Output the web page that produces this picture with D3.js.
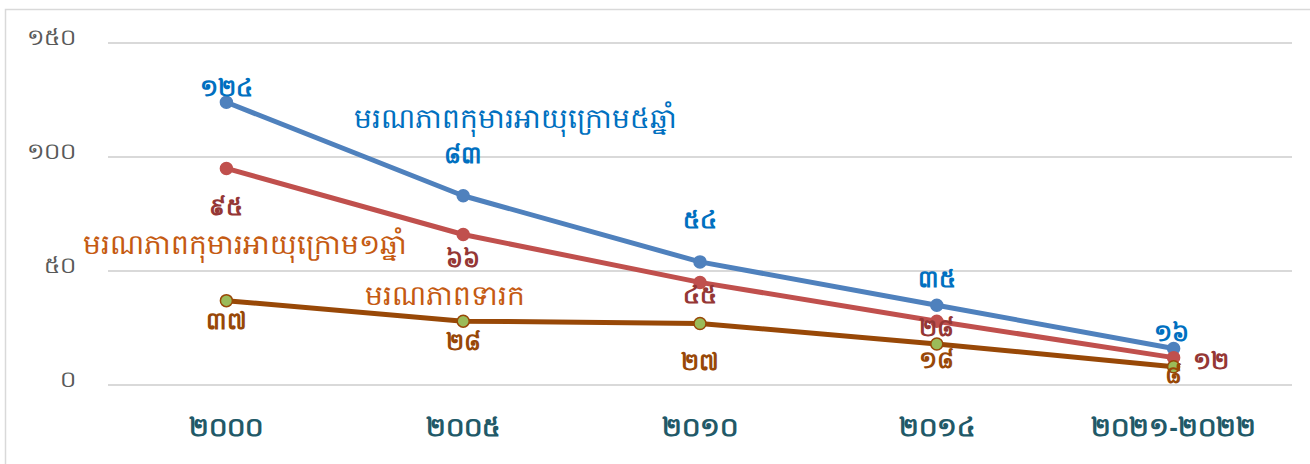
<!DOCTYPE html>
<meta charset="utf-8">
<style>
body {
	margin: 0;
	background-color: #ffffff;
	font-family: "Noto Sans", "DejaVu Sans", sans-serif;
}
.grid line {
	stroke: #d9d9d9;
	stroke-width: 2;
}
.axis path, .axis line { display: none; }
</style>
<body>
<script src="https://d3js.org/d3.v7.min.js"></script>
<script>
var width = 1310, height = 464;

// data
var years = ['២០០០', '២០០៥', '២០១០', '២០១៤', '២០២១-២០២២'];
var under5 = [124, 83, 54, 35, 16];
var under1 = [95, 66, 45, 28, 12];
var neonatal = [37, 28, 27, 18, 8];
var yTicks = [0, 50, 100, 150];
var khDigits = ['០','១','២','៣','៤','៥','៦','៧','៨','៩'];

function kh(n) {
	return String(n).replace(/[0-9]/g, function(c) { return khDigits[+c]; });
}

var margin = {left: 108, right: 18, top: 43, bottom: 79};

var x = d3.scaleBand()
	.domain(years)
	.range([margin.left, width - margin.right])
	.paddingInner(0).paddingOuter(0);

var y = d3.scaleLinear()
	.domain([0, 150])
	.range([height - margin.bottom, margin.top]);

var svg = d3.select('body').append('svg')
	.attr('width', width)
	.attr('height', height);

// chart frame
svg.append('rect')
	.attr('x', 5.5).attr('y', 9.5)
	.attr('width', width).attr('height', height)
	.style('fill', 'none')
	.style('stroke', '#d9d9d9')
	.style('stroke-width', 1.5);

// gridlines
svg.append('g').attr('class', 'grid')
	.selectAll('line')
	.data(yTicks)
	.enter().append('line')
	.attr('x1', margin.left)
	.attr('x2', width - margin.right)
	.attr('y1', function(d) { return y(d); })
	.attr('y2', function(d) { return y(d); });

// y axis labels
var yAxis = d3.axisLeft(y).tickValues(yTicks).tickFormat(kh).tickSize(0).tickPadding(32);
var gy = svg.append('g').attr('class', 'axis')
	.attr('transform', 'translate(' + margin.left + ',-6)')
	.call(yAxis);
gy.selectAll('text')
	.style('font-size', '23px')
	.style('font-family', '"Noto Sans", "DejaVu Sans", sans-serif')
	.style('fill', '#595959');

// x axis labels
var xAxis = d3.axisBottom(x).tickSize(0).tickPadding(33);
var gx = svg.append('g').attr('class', 'axis')
	.attr('transform', 'translate(0,' + y(0) + ')')
	.call(xAxis);
gx.selectAll('text')
	.style('font-size', '26px')
	.style('font-weight', 'bold')
	.style('fill', '#215968');

var series = [
	{name: 'មរណភាពកុមារអាយុក្រោម៥ឆ្នាំ', values: under5, line: '#4f81bd', dot: '#4f81bd', dotStroke: '#4f81bd', label: '#0070c0',
	 dx: [0, 0, 0, 0, -2], dy: [-6, -33, -34, -18, -8]},
	{name: 'មរណភាពកុមារអាយុក្រោម១ឆ្នាំ', values: under1, line: '#c0504d', dot: '#c0504d', dotStroke: '#c0504d', label: '#953735',
	 dx: [0, 0, 0, 0, 37], dy: [47, 32, 21, 15, 11]},
	{name: 'មរណភាពទារក', values: neonatal, line: '#984807', dot: '#9bbb59', dotStroke: '#984807', label: '#984807',
	 dx: [0, 0, 0, 0, 0], dy: [28, 29, 47, 24, 16]}
];

var cx = function(i) { return x(years[i]) + x.bandwidth() / 2; };

var line = d3.line()
	.x(function(d, i) { return cx(i); })
	.y(function(d) { return y(d); });

series.forEach(function(s) {
	svg.append('path')
		.datum(s.values)
		.attr('d', line)
		.style('fill', 'none')
		.style('stroke', s.line)
		.style('stroke-width', 5)
		.style('stroke-linejoin', 'round');
});

series.forEach(function(s) {
	svg.append('g').selectAll('circle')
		.data(s.values)
		.enter().append('circle')
		.attr('cx', function(d, i) { return cx(i); })
		.attr('cy', function(d) { return y(d); })
		.attr('r', 6)
		.style('fill', s.dot)
		.style('stroke', s.dotStroke)
		.style('stroke-width', 1.5);
});

series.forEach(function(s) {
	svg.append('g').selectAll('text')
		.data(s.values)
		.enter().append('text')
		.attr('x', function(d, i) { return cx(i) + s.dx[i]; })
		.attr('y', function(d, i) { return y(d) + s.dy[i]; })
		.attr('text-anchor', 'middle')
		.style('font-size', '24px')
		.style('font-weight', 'bold')
		.style('fill', s.label)
		.text(function(d) { return kh(d); });
});

// series name annotations
var notes = [
	{text: series[0].name, color: '#0070c0', x: 515, y: 128},
	{text: series[1].name, color: '#c55a11', x: 245, y: 254},
	{text: series[2].name, color: '#c55a11', x: 445, y: 305}
];
svg.append('g').selectAll('text')
	.data(notes)
	.enter().append('text')
	.attr('x', function(d) { return d.x; })
	.attr('y', function(d) { return d.y; })
	.attr('text-anchor', 'middle')
	.style('font-size', '28px')
	.style('fill', function(d) { return d.color; })
	.text(function(d) { return d.text; });
</script>
</body>
